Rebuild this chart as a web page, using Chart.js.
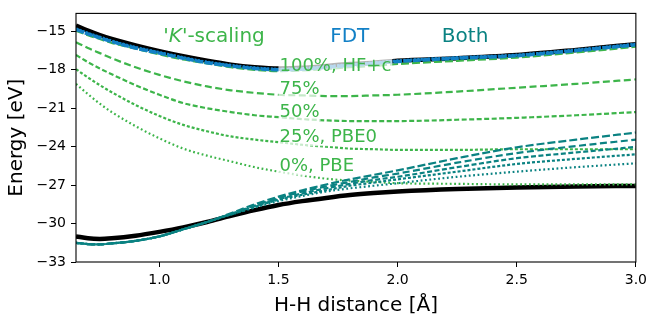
<!DOCTYPE html>
<html>
<head>
<meta charset="utf-8">
<script src="https://cdn.jsdelivr.net/npm/chart.js@4"></script>
<style>
  html, body { margin: 0; padding: 0; background: #fff; }
  #wrap { width: 652px; height: 325px; }
</style>
</head>
<body>
<div id="wrap"><canvas id="h2-chart"></canvas></div>
<script>
// H-H distance grid [Å]
const distances = [0.65, 0.7, 0.75, 0.8, 0.9, 1.0, 1.1, 1.2, 1.3, 1.4, 1.5, 1.6, 1.7, 1.8, 1.9, 2.0, 2.25, 2.5, 2.75, 3.0];

// reference (black) curves, upper and lower state [eV]
const exactUpper = [-14.55, -14.95, -15.3, -15.6, -16.1, -16.55, -16.95, -17.3, -17.6, -17.8, -17.9, -17.85, -17.7, -17.55, -17.45, -17.3, -17.1, -16.85, -16.45, -16.0];
const exactLower = [-31.0, -31.15, -31.2, -31.15, -30.95, -30.65, -30.3, -29.88, -29.4, -28.95, -28.55, -28.25, -28.0, -27.78, -27.62, -27.5, -27.3, -27.18, -27.1, -27.07];

// 'K'-scaling, one curve per exchange fraction
const kScale100 = [-14.95, -15.3, -15.6, -15.9, -16.35, -16.8, -17.2, -17.5, -17.8, -18.0, -18.1, -18.05, -17.95, -17.8, -17.7, -17.55, -17.3, -17.05, -16.65, -16.2];
const kScale75 = [-15.85, -16.3, -16.7, -17.1, -17.8, -18.4, -18.9, -19.3, -19.6, -19.8, -19.95, -20.0, -20.05, -20.05, -20.0, -19.95, -19.7, -19.4, -19.1, -18.75];
const kScale50 = [-16.85, -17.4, -17.9, -18.35, -19.2, -19.95, -20.6, -21.0, -21.3, -21.55, -21.7, -21.85, -21.95, -22.0, -22.0, -22.0, -21.9, -21.75, -21.55, -21.3];
const kScale25 = [-17.95, -18.6, -19.2, -19.75, -20.75, -21.6, -22.3, -22.8, -23.2, -23.45, -23.65, -23.85, -24.0, -24.15, -24.2, -24.25, -24.25, -24.2, -24.2, -24.2];
const kScale0 = [-19.1, -19.9, -20.65, -21.3, -22.4, -23.35, -24.15, -24.7, -25.15, -25.6, -25.95, -26.25, -26.5, -26.65, -26.75, -26.85, -26.9, -26.95, -26.95, -26.95];
const kLabels = ["100%, HF+c", "75%", "50%", "25%, PBE0", "0%, PBE"];

// FDT
const fdtDashed = [-14.85, -15.2, -15.5, -15.8, -16.3, -16.7, -17.1, -17.45, -17.7, -17.9, -18.0, -17.95, -17.8, -17.65, -17.5, -17.35, -17.1, -16.9, -16.5, -16.05];
const fdtDotted = [-14.8, -15.15, -15.45, -15.75, -16.25, -16.65, -17.05, -17.4, -17.65, -17.85, -17.95, -17.9, -17.75, -17.6, -17.45, -17.3, -17.05, -16.85, -16.45, -16.0];

// both corrections combined
const both100 = [-31.5, -31.6, -31.62, -31.55, -31.35, -31.0, -30.45, -29.88, -29.2, -28.5, -27.9, -27.4, -26.95, -26.55, -26.2, -25.85, -24.9, -24.05, -23.45, -22.9];
const both75 = [-31.5, -31.6, -31.62, -31.55, -31.35, -31.0, -30.45, -29.88, -29.25, -28.6, -28.0, -27.5, -27.1, -26.75, -26.4, -26.1, -25.25, -24.5, -23.95, -23.45];
const both50 = [-31.5, -31.6, -31.62, -31.55, -31.35, -31.0, -30.45, -29.88, -29.25, -28.65, -28.1, -27.65, -27.25, -26.9, -26.6, -26.35, -25.6, -24.9, -24.45, -24.02];
const both25 = [-31.5, -31.6, -31.62, -31.55, -31.35, -31.0, -30.45, -29.88, -29.3, -28.7, -28.15, -27.75, -27.4, -27.05, -26.8, -26.55, -25.95, -25.35, -24.95, -24.6];
const both0 = [-31.5, -31.6, -31.62, -31.55, -31.35, -31.0, -30.45, -29.88, -29.3, -28.75, -28.25, -27.85, -27.5, -27.25, -27.05, -26.85, -26.35, -25.95, -25.6, -25.3];

const xTicks = [1.0, 1.5, 2.0, 2.5, 3.0];
const yTicks = [-33, -30, -27, -24, -21, -18, -15];
const labelAt = 1.5;

const GREEN = "#3db54a";
const BLUE = "#1280c6";
const TEAL = "#0a8282";

const pts = (ys) => distances.map((x, i) => ({ x: x, y: ys[i] }));

function line(ys, color, width, dash, order) {
  return {
    data: pts(ys),
    borderColor: color,
    borderWidth: width,
    borderDash: dash,
    pointRadius: 0,
    cubicInterpolationMode: "monotone",
    fill: false,
    order: order,
  };
}

const kSeries = [kScale100, kScale75, kScale50, kScale25, kScale0];
const kDashes = [[8, 3], [7, 3.5], [5, 2.5], [3, 2], [1.8, 2.6]];
const bothSeries = [both100, both75, both50, both25, both0];

const datasets = [
  line(exactUpper, "#000", 4.5, [], 5),
  line(exactLower, "#000", 4.5, [], 5),
];
kSeries.forEach((s, i) => datasets.push(line(s, GREEN, 2.2, kDashes[i], 4)));
datasets.push(line(fdtDashed, BLUE, 3.5, [8, 1.5], 3));
datasets.push(line(fdtDotted, BLUE, 3, [2, 1.5], 3));
bothSeries.forEach((s, i) => datasets.push(line(s, TEAL, 2.2, kDashes[i], 2)));

// curve labels, left edge at x = labelAt
const lineLabels = {
  id: "lineLabels",
  afterDatasetsDraw(chart) {
    const { ctx, scales } = chart;
    const idx = distances.indexOf(labelAt);
    ctx.save();
    ctx.font = "18px 'DejaVu Sans'";
    ctx.textBaseline = "middle";
    ctx.textAlign = "left";
    kSeries.forEach((s, i) => {
      const px = scales.x.getPixelForValue(labelAt) + 1;
      const py = scales.y.getPixelForValue(s[idx]) - 5;
      const w = ctx.measureText(kLabels[i]).width;
      ctx.fillStyle = "rgba(255,255,255,0.7)";
      ctx.fillRect(px - 1, py - 8, w + 2, 17);
      ctx.fillStyle = GREEN;
      ctx.fillText(kLabels[i], px, py);
    });
    ctx.restore();
  },
};

// method names across the top of the plot
const methodNames = {
  id: "methodNames",
  afterDatasetsDraw(chart) {
    const { ctx, chartArea: a } = chart;
    const base = a.top + 29;
    const at = (f) => a.left + f * (a.right - a.left);
    ctx.save();
    ctx.textBaseline = "alphabetic";
    ctx.textAlign = "left";
    const normal = "20px 'DejaVu Sans'";
    const italic = "italic 20px 'DejaVu Sans'";
    const parts = [["'", normal], ["K", italic], ["'-scaling", normal]];
    let total = 0;
    parts.forEach((p) => { ctx.font = p[1]; total += ctx.measureText(p[0]).width; });
    let x = at(0.2465) - total / 2;
    ctx.fillStyle = GREEN;
    parts.forEach((p) => {
      ctx.font = p[1];
      ctx.fillText(p[0], x, base);
      x += ctx.measureText(p[0]).width;
    });
    ctx.font = normal;
    ctx.textAlign = "center";
    ctx.fillStyle = BLUE;
    ctx.fillText("FDT", at(0.489), base);
    ctx.fillStyle = TEAL;
    ctx.fillText("Both", at(0.695), base);
    ctx.restore();
  },
};

const frame = {
  id: "frame",
  afterDraw(chart) {
    const { ctx, chartArea: a } = chart;
    ctx.save();
    ctx.strokeStyle = "#000";
    ctx.lineWidth = 1.1;
    ctx.strokeRect(a.left, a.top, a.right - a.left, a.bottom - a.top);
    ctx.restore();
  },
};

Chart.defaults.font.family = "'DejaVu Sans'";
Chart.defaults.color = "#000";

new Chart(document.getElementById("h2-chart"), {
  type: "line",
  data: { datasets: datasets },
  options: {
    responsive: true,
    maintainAspectRatio: false,
    animation: false,
    layout: { padding: { top: 3, right: 12, left: 0, bottom: 0 } },
    plugins: { legend: { display: false }, tooltip: { enabled: false } },
    scales: {
      x: {
        type: "linear",
        min: 0.65,
        max: 3.0,
        afterBuildTicks: (s) => { s.ticks = xTicks.map((v) => ({ value: v })); },
        afterFit: (s) => { s.height = 63; },
        ticks: { font: { size: 14 }, padding: 5, maxRotation: 0, callback: (v) => v.toFixed(1) },
        grid: { drawOnChartArea: false, tickLength: 5, color: "#000" },
        border: { display: false },
        title: { display: true, text: "H-H distance [Å]", font: { size: 20 }, padding: { top: 0, bottom: 7 } },
      },
      y: {
        min: -33,
        max: -13.6,
        afterBuildTicks: (s) => { s.ticks = yTicks.map((v) => ({ value: v })); },
        afterFit: (s) => { s.width = 76; },
        ticks: { font: { size: 14 }, padding: 5, callback: (v) => String(v).replace("-", "\u2212") },
        grid: { drawOnChartArea: false, tickLength: 5, color: "#000" },
        border: { display: false },
        title: { display: true, text: "Energy [eV]", font: { size: 20 }, padding: { top: 5, bottom: 0 } },
      },
    },
  },
  plugins: [lineLabels, methodNames, frame],
});
</script>
</body>
</html>
